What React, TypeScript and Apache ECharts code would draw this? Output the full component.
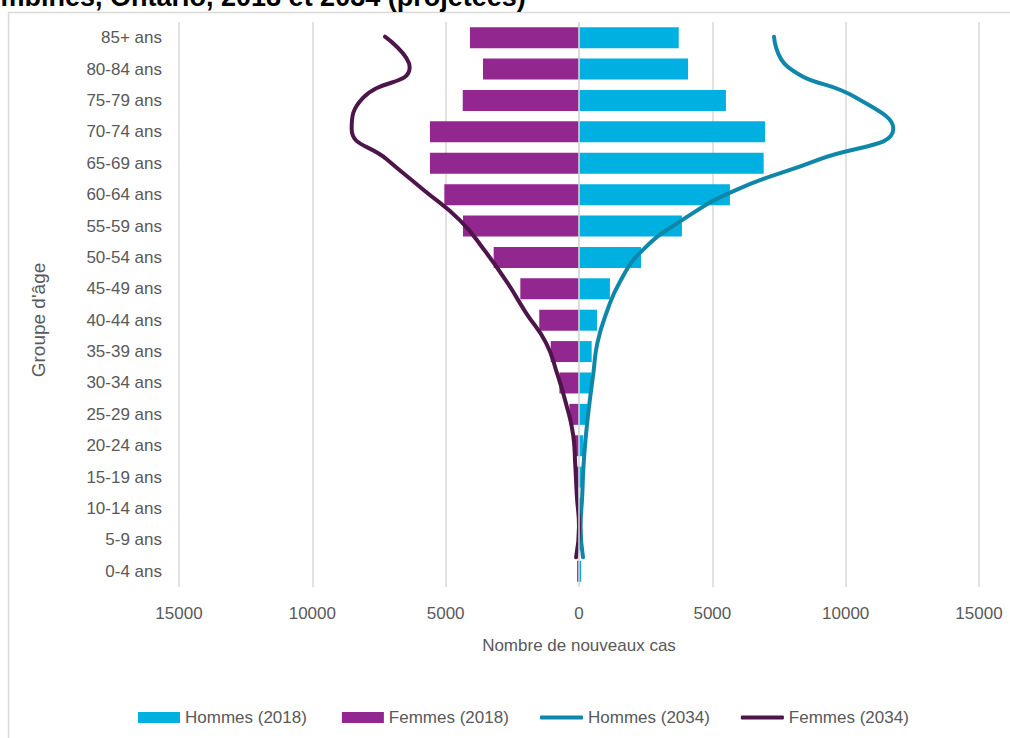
import React, { useEffect, useRef } from "react";
import * as echarts from "echarts";

// Age groups, from bottom (youngest) to top (oldest)
const ageGroups = [
  "0-4 ans", "5-9 ans", "10-14 ans", "15-19 ans", "20-24 ans", "25-29 ans",
  "30-34 ans", "35-39 ans", "40-44 ans", "45-49 ans", "50-54 ans", "55-59 ans",
  "60-64 ans", "65-69 ans", "70-74 ans", "75-79 ans", "80-84 ans", "85+ ans",
];

// 2018 new cases (bars)
const hommes2018 = [80, 50, 60, 100, 160, 325, 450, 475, 675, 1160, 2325, 3860, 5660, 6925, 6975, 5510, 4090, 3740];
const femmes2018 = [70, 40, 50, 80, 150, 360, 735, 1060, 1490, 2200, 3200, 4350, 5050, 5590, 5590, 4360, 3600, 4090];

// 2034 projected new cases (lines)
const hommes2034 = [150, 60, 120, 170, 262, 387, 537, 690, 1037, 1537, 2350, 3850, 5900, 9037, 11787, 10412, 7850, 7312];
const femmes2034 = [110, 0, 80, 140, 220, 480, 820, 1237, 2000, 2712, 3525, 4462, 5837, 7212, 8525, 8100, 6350, 7275];

const xTicks = [-15000, -10000, -5000, 0, 5000, 10000, 15000];

const C_H18 = "#00B0E0";
const C_F18 = "#92278F";
const C_H34 = "#0F87A8";
const C_F34 = "#4D1549";
const GRID = "#D9D9D9";
const TXT = "#595959";
const FONT = "'Liberation Sans', Arial, sans-serif";

export default function App() {
  const ref = useRef<HTMLDivElement>(null);

  useEffect(() => {
    if (!ref.current) return;
    const chart = echarts.init(ref.current, null, { renderer: "svg" });

    const option = {
      animation: false,
      backgroundColor: "#ffffff",
      textStyle: { fontFamily: FONT },
      grid: { left: 179, right: 31, top: 22, height: 565, containLabel: false },
      xAxis: {
        type: "value",
        min: xTicks[0],
        max: xTicks[xTicks.length - 1],
        interval: 5000,
        axisLine: { show: false },
        axisTick: { show: false },
        splitLine: { show: true, lineStyle: { color: GRID, width: 1.5 } },
        axisLabel: {
          color: TXT,
          fontSize: 17,
          margin: 18,
          fontFamily: FONT,
          formatter: (v: number) => String(Math.abs(v)),
        },
        name: "Nombre de nouveaux cas",
        nameLocation: "middle",
        nameGap: 50,
        nameTextStyle: { color: TXT, fontSize: 17, fontFamily: FONT },
      },
      yAxis: [
        {
          type: "category",
          data: ageGroups,
          axisLine: { show: false },
          axisTick: { show: false },
          splitLine: { show: false },
          axisLabel: { color: TXT, fontSize: 17, margin: 17, fontFamily: FONT },
        },
        {
          type: "value",
          show: false,
          min: -0.97,
          max: 17.48,
          splitLine: { show: false },
        },
      ],
      legend: [
        {
          left: 133,
          top: 704,
          itemWidth: 42,
          itemHeight: 11,
          itemGap: 35,
          icon: "rect",
          textStyle: { color: TXT, fontSize: 17, fontFamily: FONT },
          data: ["Hommes (2018)", "Femmes (2018)"],
        },
        {
          left: 535,
          top: 704,
          itemWidth: 43,
          itemHeight: 4,
          itemGap: 31,
          icon: "roundRect",
          textStyle: { color: TXT, fontSize: 17, fontFamily: FONT },
          data: ["Hommes (2034)", "Femmes (2034)"],
        },
      ],
      series: [
        {
          name: "Femmes (2018)",
          type: "bar",
          stack: "total",
          barWidth: 21,
          itemStyle: { color: C_F18 },
          data: femmes2018.map((v) => -v),
        },
        {
          name: "Hommes (2018)",
          type: "bar",
          stack: "total",
          barWidth: 21,
          itemStyle: { color: C_H18 },
          data: hommes2018,
          markLine: {
            silent: true,
            symbol: ["none", "none"],
            label: { show: false },
            lineStyle: { color: GRID, width: 1.5, type: "solid" },
            data: [{ xAxis: 0 }],
          },
        },
        {
          name: "Hommes (2034)",
          type: "line",
          yAxisIndex: 1,
          smooth: true,
          showSymbol: false,
          symbol: "none",
          lineStyle: { color: C_H34, width: 4, cap: "round" },
          itemStyle: { color: C_H34 },
          data: hommes2034.map((v, i) => [v, i]),
          z: 4,
        },
        {
          name: "Femmes (2034)",
          type: "line",
          yAxisIndex: 1,
          smooth: true,
          showSymbol: false,
          symbol: "none",
          lineStyle: { color: C_F34, width: 4, cap: "round" },
          itemStyle: { color: C_F34 },
          data: femmes2034.map((v, i) => [-v, i]),
          z: 4,
        },
      ],
      graphic: [
        {
          type: "rect",
          silent: true,
          shape: { x: 8.5, y: 12.5, width: 1100, height: 900 },
          style: { fill: "none", stroke: GRID, lineWidth: 1.5 },
          z: -10,
        },
        {
          type: "text",
          left: -31,
          top: -17,
          silent: true,
          style: {
            text: "combinés, Ontario, 2018 et 2034 (projetées)",
            fill: "#000000",
            fontSize: 27,
            fontWeight: "bold",
            fontFamily: FONT,
          },
        },
        {
          type: "text",
          x: 38,
          y: 320,
          rotation: Math.PI / 2,
          silent: true,
          style: {
            text: "Groupe d'âge",
            fill: TXT,
            fontSize: 19,
            fontFamily: FONT,
            align: "center",
            verticalAlign: "middle",
          },
        },
      ],
    };

    chart.setOption(option as any);
    return () => chart.dispose();
  }, []);

  return (
    <div
      ref={ref}
      style={{ position: "absolute", left: 0, top: 0, width: 1010, height: 738 }}
    />
  );
}
